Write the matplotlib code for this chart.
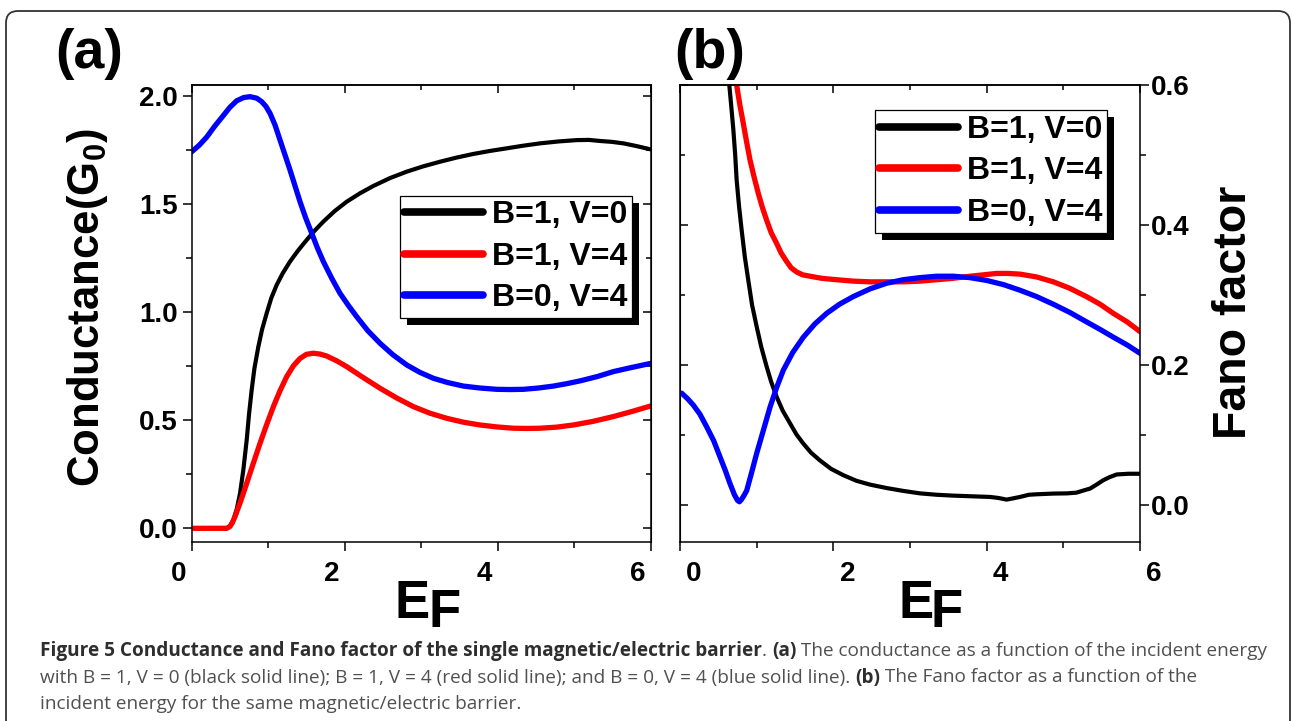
import matplotlib
matplotlib.use('Agg')
import matplotlib.pyplot as plt
from matplotlib import font_manager
from matplotlib.patches import FancyBboxPatch, Rectangle
from matplotlib.transforms import ScaledTranslation, IdentityTransform
from matplotlib.font_manager import FontProperties

names = {f.name for f in font_manager.fontManager.ttflist}
SANS = 'Liberation Sans' if 'Liberation Sans' in names else 'DejaVu Sans'
NARROW = 'Liberation Sans Narrow' if 'Liberation Sans Narrow' in names else SANS
CAP = 'Open Sans' if 'Open Sans' in names else SANS

plt.rcParams['font.family'] = [SANS, 'DejaVu Sans']
plt.rcParams['font.weight'] = 'bold'
plt.rcParams['mathtext.fontset'] = 'custom'
plt.rcParams['mathtext.rm'] = SANS + ':bold'
plt.rcParams['mathtext.it'] = SANS + ':bold'
plt.rcParams['mathtext.bf'] = SANS + ':bold'
plt.rcParams['mathtext.default'] = 'rm'

# ---------------- data ----------------
series_labels = ['B=1, V=0', 'B=1, V=4', 'B=0, V=4']
series_colors = ['#000000', '#ff0000', '#0000ff']

# (a) conductance
E_a_black = [0.02, 0.458, 0.5, 0.545, 0.59, 0.632, 0.675, 0.719, 0.75, 0.784, 0.82, 0.871, 0.92, 0.98,
             1.04, 1.111, 1.19, 1.285, 1.39, 1.503, 1.61, 1.721, 1.87, 2.026, 2.2, 2.375, 2.59, 2.81,
             3.03, 3.246, 3.46, 3.682, 3.9, 4.118, 4.33, 4.553, 4.8, 5.033, 5.19, 5.338, 5.49, 5.643,
             5.82, 6.0]
G_a_black = [0.0, 0.0, 0.01, 0.039, 0.09, 0.162, 0.27, 0.409, 0.53, 0.64, 0.74, 0.84, 0.92, 0.995,
             1.065, 1.126, 1.18, 1.234, 1.285, 1.334, 1.378, 1.419, 1.468, 1.511, 1.55, 1.584, 1.62, 1.65,
             1.675, 1.696, 1.715, 1.732, 1.746, 1.758, 1.77, 1.781, 1.79, 1.796, 1.797, 1.792, 1.788, 1.781,
             1.768, 1.753]
E_a_red = [0.02, 0.458, 0.5, 0.53, 0.566, 0.64, 0.719, 0.8, 0.893, 0.98, 1.068, 1.155, 1.242, 1.33,
           1.416, 1.5, 1.59, 1.68, 1.765, 1.9, 2.026, 2.24, 2.462, 2.68, 2.898, 3.11, 3.333, 3.55,
           3.769, 3.99, 4.205, 4.38, 4.553, 4.77, 4.989, 5.25, 5.512, 5.75, 6.0]
G_a_red = [0.0, 0.0, 0.008, 0.025, 0.054, 0.125, 0.208, 0.295, 0.393, 0.48, 0.563, 0.637, 0.702, 0.752,
           0.786, 0.805, 0.81, 0.806, 0.797, 0.774, 0.748, 0.698, 0.648, 0.603, 0.563, 0.533, 0.509, 0.491,
           0.478, 0.469, 0.463, 0.462, 0.463, 0.468, 0.478, 0.495, 0.517, 0.54, 0.566]
E_a_blue = [0.0, 0.1, 0.196, 0.3, 0.414, 0.5, 0.588, 0.68, 0.763, 0.85, 0.915, 0.97, 1.024, 1.09,
            1.155, 1.22, 1.285, 1.35, 1.416, 1.49, 1.569, 1.64, 1.721, 1.83, 1.939, 2.05, 2.157, 2.3,
            2.462, 2.63, 2.81, 2.98, 3.159, 3.35, 3.551, 3.77, 3.987, 4.16, 4.336, 4.53, 4.728, 4.9,
            5.076, 5.3, 5.512, 5.75, 6.0]
G_a_blue = [1.742, 1.773, 1.81, 1.86, 1.91, 1.948, 1.978, 1.993, 1.997, 1.99, 1.974, 1.952, 1.92, 1.865,
            1.796, 1.727, 1.658, 1.585, 1.511, 1.436, 1.365, 1.3, 1.234, 1.157, 1.087, 1.03, 0.979, 0.915,
            0.856, 0.803, 0.756, 0.722, 0.694, 0.674, 0.658, 0.649, 0.643, 0.642, 0.643, 0.649, 0.658, 0.669,
            0.682, 0.702, 0.725, 0.744, 0.763]

# (b) Fano factor
E_b_black = [0.643, 0.67, 0.696, 0.72, 0.739, 0.77, 0.804, 0.845, 0.891, 0.94, 1.0, 1.06, 1.13, 1.19,
             1.26, 1.34, 1.435, 1.52, 1.609, 1.71, 1.826, 1.97, 2.13, 2.3, 2.478, 2.7, 2.913, 3.13,
             3.348, 3.56, 3.783, 4.043, 4.15, 4.26, 4.35, 4.435, 4.55, 4.652, 4.87, 5.05, 5.17, 5.26,
             5.348, 5.44, 5.52, 5.6, 5.696, 5.85, 6.0]
F_b_black = [0.6, 0.568, 0.536, 0.5, 0.464, 0.427, 0.393, 0.355, 0.321, 0.286, 0.255, 0.226, 0.198, 0.176,
             0.155, 0.135, 0.117, 0.101, 0.088, 0.075, 0.064, 0.052, 0.043, 0.035, 0.0295, 0.0245, 0.0205, 0.017,
             0.015, 0.0138, 0.0129, 0.0119, 0.0105, 0.0081, 0.01, 0.0119, 0.015, 0.0157, 0.0167, 0.017, 0.018, 0.021,
             0.0238, 0.03, 0.0357, 0.04, 0.044, 0.045, 0.045]
E_b_red = [0.739, 0.78, 0.826, 0.87, 0.913, 0.97, 1.022, 1.075, 1.13, 1.19, 1.26, 1.32, 1.391, 1.45,
           1.522, 1.6, 1.696, 1.85, 2.043, 2.26, 2.478, 2.7, 2.913, 3.13, 3.348, 3.56, 3.783, 3.96,
           4.13, 4.28, 4.435, 4.65, 4.87, 5.08, 5.3, 5.48, 5.652, 5.83, 6.0]
F_b_red = [0.6, 0.572, 0.545, 0.518, 0.493, 0.467, 0.445, 0.425, 0.407, 0.389, 0.374, 0.36, 0.348, 0.339,
           0.333, 0.329, 0.327, 0.324, 0.322, 0.32, 0.319, 0.319, 0.319, 0.32, 0.322, 0.324, 0.327, 0.329,
           0.331, 0.331, 0.33, 0.326, 0.319, 0.31, 0.298, 0.287, 0.274, 0.262, 0.248]
E_b_blue = [0.022, 0.1, 0.174, 0.26, 0.348, 0.44, 0.522, 0.59, 0.652, 0.71, 0.75, 0.775, 0.8, 0.835,
            0.87, 0.93, 1.0, 1.09, 1.174, 1.26, 1.348, 1.47, 1.609, 1.76, 1.913, 2.08, 2.261, 2.48,
            2.696, 2.91, 3.13, 3.35, 3.565, 3.78, 4.0, 4.22, 4.435, 4.65, 4.87, 5.09, 5.3, 5.48,
            5.652, 5.83, 6.0]
F_b_blue = [0.16, 0.152, 0.143, 0.13, 0.112, 0.092, 0.069, 0.05, 0.031, 0.015, 0.007, 0.005, 0.008, 0.014,
            0.021, 0.045, 0.074, 0.108, 0.14, 0.168, 0.193, 0.218, 0.24, 0.259, 0.274, 0.287, 0.298, 0.309,
            0.317, 0.322, 0.325, 0.327, 0.327, 0.325, 0.321, 0.315, 0.307, 0.298, 0.287, 0.275, 0.262, 0.251,
            0.24, 0.229, 0.217]

x_ticks = [0, 2, 4, 6]
x_minor = [1, 3, 5]
ya_ticks = [0.0, 0.5, 1.0, 1.5, 2.0]
ya_minor = [0.25, 0.75, 1.25, 1.75]
yb_ticks = [0.0, 0.2, 0.4, 0.6]
yb_minor = [0.1, 0.3, 0.5]

caption_lines = [
    [("Figure 5 Conductance and Fano factor of the single magnetic/electric barrier", True),
     (". ", False), ("(a)", True), (" The conductance as a function of the incident energy", False)],
    [("with B = 1, V = 0 (black solid line); B = 1, V = 4 (red solid line); and B = 0, V = 4 (blue solid line). ", False),
     ("(b)", True), (" The Fano factor as a function of the", False)],
    [("incident energy for the same magnetic/electric barrier.", False)],
]

# ---------------- figure ----------------
W, H = 1292, 721
fig = plt.figure(figsize=(W / 100, H / 100), dpi=100)
fig.patch.set_facecolor('white')


def px_rect(x0, y0, x1, y1):
    return [x0 / W, 1 - y1 / H, (x1 - x0) / W, (y1 - y0) / H]


axL = fig.add_axes(px_rect(191.7, 85, 650.7, 541.7))
axR = fig.add_axes(px_rect(680, 85, 1140, 541.7))

LW_SPINE = 1.1
TICKFS = 20

for ax in (axL, axR):
    for s in ax.spines.values():
        s.set_linewidth(LW_SPINE)
    ax.set_xlim(0, 6)
    ax.set_xticks(x_ticks)
    ax.set_xticks(x_minor, minor=True)
    ax.set_xticklabels([str(v) for v in x_ticks])
    ax.tick_params(axis='x', which='major', direction='out', length=6.5, width=LW_SPINE,
                   labelsize=TICKFS, pad=7.5, top=False)
    ax.tick_params(axis='x', which='minor', direction='out', length=4, width=LW_SPINE, top=False)
    sx = ax.secondary_xaxis('top')
    sx.set_xticks(x_ticks)
    sx.set_xticks(x_minor, minor=True)
    sx.tick_params(axis='x', which='major', direction='in', length=6, width=LW_SPINE, labeltop=False)
    sx.tick_params(axis='x', which='minor', direction='in', length=3.5, width=LW_SPINE, labeltop=False)
    sx.spines['top'].set_linewidth(LW_SPINE)

line_kw = dict(solid_capstyle='round', solid_joinstyle='round')

# panel a
axL.plot(E_a_black, G_a_black, color=series_colors[0], lw=3.0, label=series_labels[0], **line_kw)
axL.plot(E_a_red, G_a_red, color=series_colors[1], lw=3.8, label=series_labels[1], **line_kw)
axL.plot(E_a_blue, G_a_blue, color=series_colors[2], lw=3.8, label=series_labels[2], **line_kw)
axL.set_ylim(-0.062, 2.051)
axL.set_yticks(ya_ticks)
axL.set_yticks(ya_minor, minor=True)
axL.set_yticklabels(['%.1f' % v for v in ya_ticks])
axL.tick_params(axis='y', which='major', direction='out', length=6.5, width=LW_SPINE,
                labelsize=TICKFS, pad=3.5, right=False)
axL.tick_params(axis='y', which='minor', direction='out', length=4, width=LW_SPINE, right=False)
syL = axL.secondary_yaxis('right')
syL.set_yticks(ya_ticks)
syL.set_yticks(ya_minor, minor=True)
syL.tick_params(axis='y', which='major', direction='in', length=6, width=LW_SPINE, labelright=False)
syL.tick_params(axis='y', which='minor', direction='in', length=3.5, width=LW_SPINE, labelright=False)

# panel b
axR.plot(E_b_black, F_b_black, color=series_colors[0], lw=3.0, label=series_labels[0], **line_kw)
axR.plot(E_b_red, F_b_red, color=series_colors[1], lw=3.8, label=series_labels[1], **line_kw)
axR.plot(E_b_blue, F_b_blue, color=series_colors[2], lw=3.8, label=series_labels[2], **line_kw)
axR.set_ylim(-0.052, 0.6)
axR.yaxis.tick_right()
axR.set_yticks(yb_ticks)
axR.set_yticks(yb_minor, minor=True)
axR.set_yticklabels(['%.1f' % v for v in yb_ticks])
axR.tick_params(axis='y', which='major', direction='out', length=6.5, width=LW_SPINE,
                labelsize=TICKFS, pad=1.5, left=False, right=True, labelleft=False, labelright=True)
axR.tick_params(axis='y', which='minor', direction='out', length=4, width=LW_SPINE,
                left=False, right=True)
syR = axR.secondary_yaxis('left')
syR.set_yticks(yb_ticks)
syR.set_yticks(yb_minor, minor=True)
syR.tick_params(axis='y', which='major', direction='in', length=6, width=LW_SPINE, labelleft=False)
syR.tick_params(axis='y', which='minor', direction='in', length=3.5, width=LW_SPINE, labelleft=False)

# shift x tick labels like the original (Origin export quirk)
for lab in axL.get_xticklabels():
    lab.set_transform(lab.get_transform() + ScaledTranslation(-13 / 100, 0, fig.dpi_scale_trans))
for lab in axR.get_xticklabels():
    lab.set_transform(lab.get_transform() + ScaledTranslation(14 / 100, 0, fig.dpi_scale_trans))

# legends
LEGFS = 23
leg_kw = dict(frameon=True, fancybox=False, framealpha=1, edgecolor='black',
              borderaxespad=0, borderpad=0.15, handlelength=2.45, handletextpad=0.3,
              labelspacing=0.36, loc='upper right', prop={'weight': 'bold', 'size': LEGFS})
legL = axL.legend(bbox_to_anchor=(0.96, 0.7576), **leg_kw)
legR = axR.legend(bbox_to_anchor=(0.929, 0.9453), **leg_kw)
for lg in (legL, legR):
    lg.get_frame().set_linewidth(0.9)
    for h in lg.get_lines():
        h.set_linewidth(5.5)
        h.set_solid_capstyle('round')


# text labels
def ftext(x, y, s, **kw):
    return fig.text(x / W, 1 - y / H, s, **kw)


ftext(89, 54, '(a)', fontsize=40, weight='bold', ha='center', va='center')
ftext(710, 54, '(b)', fontsize=40, weight='bold', ha='center', va='center')
ftext(88, 308, 'Conductance(G$_0$)', fontsize=31.5, weight='bold', rotation=90, ha='center', va='center')
ftext(1234, 312, 'Fano factor', fontsize=33.5, weight='bold', rotation=90, ha='center', va='center')
for ex in (395, 898):
    ftext(ex, 618, 'E', fontsize=38, weight='bold', family=[NARROW, 'DejaVu Sans'], ha='left', va='baseline')
    ftext(ex + 33, 627, 'F', fontsize=38, weight='bold', family=[NARROW, 'DejaVu Sans'], ha='left', va='baseline')

# outer rounded frame
frame = FancyBboxPatch((6, -30), 1284, 721 - 11 + 30, boxstyle='round,pad=0,rounding_size=12',
                       transform=IdentityTransform(), fill=False, edgecolor='#333333', linewidth=1.3)
fig.add_artist(frame)

# caption
renderer = fig.canvas.get_renderer()


def seg_width(s, bold, fs):
    fp = FontProperties(family=[CAP, 'DejaVu Sans'], weight='bold' if bold else 'normal', size=fs)
    w1, _, _ = renderer.get_text_width_height_descent(s + '|', fp, ismath=False)
    w2, _, _ = renderer.get_text_width_height_descent('|', fp, ismath=False)
    return w1 - w2


CAP_X0, CAP_X1 = 40, 1274
base_fs = 14.0
w_line1 = sum(seg_width(s, b, base_fs) for s, b in caption_lines[0])
cap_fs = base_fs * (CAP_X1 - CAP_X0) / w_line1
baselines = [656, 682.5, 709]
for line, yb in zip(caption_lines, baselines):
    x = CAP_X0
    for s, b in line:
        ftext(x, yb, s, fontsize=cap_fs, family=[CAP, 'DejaVu Sans'], weight='bold' if b else 'normal',
              color='#2e2e2e' if b else '#505050', ha='left', va='baseline')
        x += seg_width(s, b, cap_fs)

# legend shadows (drawn after layout is known)
fig.canvas.draw()
for ax, lg in ((axL, legL), (axR, legR)):
    bb = lg.get_window_extent(renderer)
    sh = Rectangle((bb.x0 + 7, bb.y0 - 7), bb.width, bb.height, transform=IdentityTransform(),
                   facecolor='black', edgecolor='none', zorder=lg.get_zorder() - 0.1)
    ax.add_artist(sh)

fig.savefig('out.png', dpi=100, facecolor='white')
